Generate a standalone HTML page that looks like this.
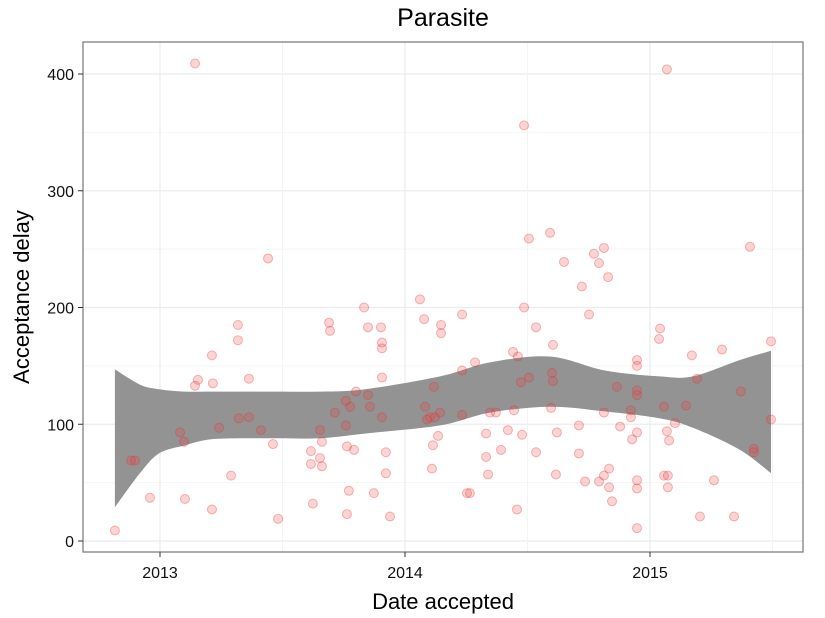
<!DOCTYPE html>
<html><head><meta charset="utf-8"><style>
body{margin:0;background:#fff;}
svg{display:block;font-family:"Liberation Sans",sans-serif;}
</style></head><body>
<svg id="chart" width="825" height="618" viewBox="0 0 825 618">
<text x="443" y="26" font-size="25" text-anchor="middle" fill="#000">Parasite</text>
<rect x="83" y="42" width="720" height="510" fill="#fff"/>
<g id="grid"></g>
<g id="band"></g>
<g id="pts"></g>
<rect x="83" y="42" width="720" height="510" fill="none" stroke="#7f7f7f" stroke-width="1.3"/>
<g id="axes"></g>
<text x="443" y="609" font-size="22" text-anchor="middle">Date accepted</text>
<text transform="translate(29,297) rotate(-90)" font-size="22" text-anchor="middle">Acceptance delay</text>
</svg>
<script>
const dates=[2012.816,2012.882,2012.898,2012.959,2013.082,2013.098,2013.102,2013.143,2013.143,2013.155,2013.212,2013.216,2013.212,2013.241,2013.290,2013.318,2013.318,2013.322,2013.363,2013.363,2013.412,2013.441,2013.461,2013.482,2013.616,2013.616,2013.624,2013.653,2013.653,2013.661,2013.661,2013.690,2013.694,2013.714,2013.759,2013.776,2013.759,2013.763,2013.792,2013.771,2013.763,2013.800,2013.833,2013.849,2013.849,2013.857,2013.873,2013.902,2013.906,2013.906,2013.906,2013.906,2013.922,2013.922,2013.939,
2014.061,2014.078,2014.082,2014.090,2014.102,2014.110,2014.114,2014.118,2014.122,2014.135,2014.143,2014.147,2014.147,2014.233,2014.233,2014.233,2014.253,2014.265,2014.286,2014.331,2014.331,2014.339,2014.347,2014.371,2014.392,2014.420,2014.441,2014.445,2014.457,2014.461,2014.473,2014.478,2014.486,2014.486,2014.506,2014.506,2014.535,2014.535,2014.592,2014.596,2014.600,2014.604,2014.604,2014.616,2014.620,2014.649,2014.710,2014.710,2014.722,2014.735,2014.751,2014.771,2014.792,2014.792,2014.812,2014.812,2014.812,2014.829,2014.833,2014.833,2014.845,2014.865,2014.878,2014.922,2014.922,2014.927,2014.947,2014.947,2014.947,2014.947,2014.947,2014.947,2014.947,2014.947,
2015.037,2015.041,2015.057,2015.073,2015.078,2015.057,2015.069,2015.073,2015.069,2015.102,2015.147,2015.171,2015.192,2015.204,2015.261,2015.294,2015.343,2015.371,2015.408,2015.424,2015.424,2015.494,2015.494];
const delays=[9,69,69,37,93,85,36,409,133,138,159,135,27,97,56,185,172,105,106,139,95,242,83,19,77,66,32,95,71,64,85,187,180,110,120,115,99,81,78,43,23,128,200,183,125,115,41,183,170,165,140,106,76,58,21,
207,190,115,104,106,62,82,132,106,90,110,185,178,194,146,108,41,41,153,92,72,57,110,110,78,95,162,112,27,158,136,91,356,200,259,140,183,76,264,114,144,137,168,57,93,239,99,75,218,51,194,246,238,51,251,56,110,226,62,46,34,132,98,112,106,87,155,150,129,125,93,52,45,11,
173,182,115,56,86,56,94,46,404,101,116,159,139,21,52,164,21,128,252,79,76,171,104];
const bandDates=[2012.816,2012.918,2012.996,2013.102,2013.204,2013.343,2013.478,2013.653,2013.837,2014.143,2014.347,2014.592,2014.816,2015.041,2015.175,2015.367,2015.494];
const bandLower=[29,58,75,82,87,88,88,88,92,99,110,115,111,105,97,78,58];
const bandUpper=[147,134,130,128,128,128,128,128,130,141,153,158,146,141,141,155,163];
const xTicks=[2013,2014,2015];
const yTicks=[0,100,200,300,400];
const X=d=>160+(d-2013)*245;
const Y=v=>541-v*1.1675;
const NS='http://www.w3.org/2000/svg';
function mk(t,a,p){const e=document.createElementNS(NS,t);for(const k in a)e.setAttribute(k,a[k]);p.appendChild(e);return e;}
const grid=document.getElementById('grid'),axes=document.getElementById('axes');
for(let i=0;i<yTicks.length;i++){
  const y=Y(yTicks[i]);
  const l=mk('line',{x1:83,x2:803,y1:y,y2:y,stroke:'#ebebeb','stroke-width':1.2},grid);
  
  if(i<yTicks.length-1){const ym=Y((yTicks[i]+yTicks[i+1])/2);
    const m=mk('line',{x1:83,x2:803,y1:ym,y2:ym,stroke:'#f4f4f4','stroke-width':1},grid);
    }
  const tk=mk('line',{x1:78,x2:83,y1:y,y2:y,stroke:'#333'},axes);
  
  const t=mk('text',{x:74,y:y+6,'font-size':16,'text-anchor':'end',fill:'#111'},axes);t.textContent=yTicks[i];
  
}
const minorX=[2012.5,2013.5,2014.5,2015.5];
minorX.forEach(d=>{const x=X(d);if(x>83&&x<803){const m=mk('line',{x1:x,x2:x,y1:42,y2:552,stroke:'#f4f4f4','stroke-width':1},grid);
  }});
xTicks.forEach(d=>{const x=X(d);
  const l=mk('line',{x1:x,x2:x,y1:42,y2:552,stroke:'#ebebeb','stroke-width':1.2},grid);
  
  const tk=mk('line',{x1:x,x2:x,y1:552,y2:557,stroke:'#333'},axes);
  
  const t=mk('text',{x:x,y:578,'font-size':16,'text-anchor':'middle',fill:'#111'},axes);t.textContent=d;
  });
function smooth(P,start){
  let s=start?'M'+P[0][0].toFixed(1)+','+P[0][1].toFixed(1):'L'+P[0][0].toFixed(1)+','+P[0][1].toFixed(1);
  for(let i=0;i<P.length-1;i++){
    const p0=P[Math.max(0,i-1)],p1=P[i],p2=P[i+1],p3=P[Math.min(P.length-1,i+2)];
    const c1=[p1[0]+(p2[0]-p0[0])/6,p1[1]+(p2[1]-p0[1])/6];
    const c2=[p2[0]-(p3[0]-p1[0])/6,p2[1]-(p3[1]-p1[1])/6];
    s+='C'+c1.map(v=>v.toFixed(1)).join(',')+' '+c2.map(v=>v.toFixed(1)).join(',')+' '+p2[0].toFixed(1)+','+p2[1].toFixed(1);
  }
  return s;
}
const up=bandDates.map((d,i)=>[X(d),Y(bandUpper[i])]);
const lo=bandDates.map((d,i)=>[X(d),Y(bandLower[i])]).reverse();
const pd=smooth(up,true)+smooth(lo,false)+'Z';
const bp=mk('path',{d:pd,fill:'#939393'},document.getElementById('band'));

const pts=document.getElementById('pts');
dates.forEach((d,i)=>{const c=mk('circle',{cx:X(d),cy:Y(delays[i]),r:4.5,fill:'rgba(240,60,60,0.22)',stroke:'rgba(230,50,50,0.35)','stroke-width':1},pts);
  });
</script>
</body></html>
